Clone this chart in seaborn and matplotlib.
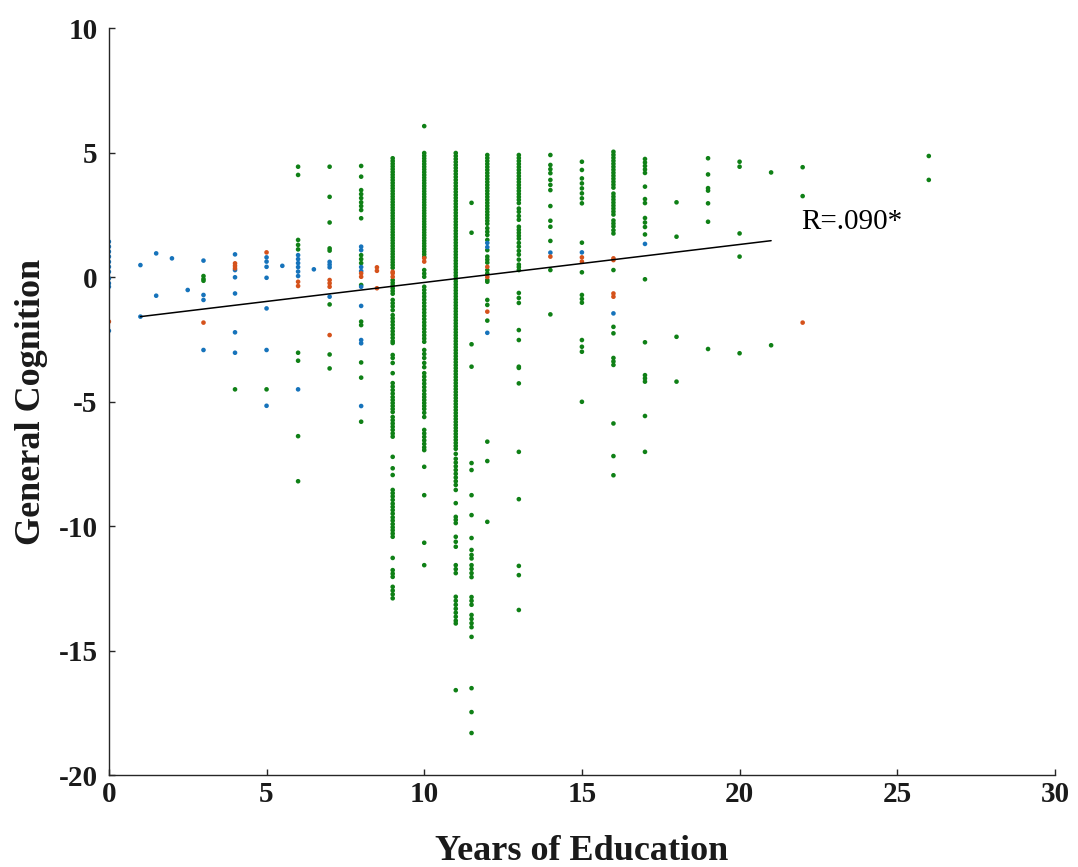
import matplotlib
matplotlib.use("Agg")
import matplotlib.pyplot as plt
import numpy as np
import pandas as pd
import seaborn as sns

# General cognition scores, grouped by years of education, one dict per group
green_pts = {
    3: [0.04, -0.08, -0.15],
    4: [-4.51],
    5: [-4.51],
    6: [4.43, 4.10, 1.49, 1.29, 1.11, -3.04, -3.36, -6.39, -8.20],
    7: [4.43, 3.22, 2.19, 1.15, 1.06, -1.10, -3.11, -3.67],
    8: [4.46, 4.03, 3.49, 3.33, 3.17, 3.00, 2.85, 2.69, 2.36, 0.88, 0.72, 0.56,
        -0.32, -1.79, -1.93, -3.43, -4.04, -5.81],
    9: [4.77, 4.66, 4.55, 4.44, 4.33, 4.22, 4.11, 4.00, 3.89, 3.78, 3.67, 3.56,
        3.45, 3.34, 3.23, 3.12, 3.01, 2.90, 2.79, 2.68, 2.57, 2.46, 2.35, 2.24,
        2.13, 2.02, 1.91, 1.80, 1.69, 1.58, 1.47, 1.36, 1.25, 1.14, 1.03, 0.92,
        0.81, 0.70, 0.59, 0.48, 0.37, -0.12, -0.23, -0.34, -0.45, -0.56, -0.67,
        -0.92, -1.05, -1.18, -1.33, -1.53, -1.66, -1.79, -1.92, -2.05, -2.18,
        -2.31, -2.44, -2.57, -2.65, -3.13, -3.25, -3.45, -3.86, -4.26, -4.40,
        -4.54, -4.68, -4.82, -4.94, -5.06, -5.18, -5.30, -5.42, -5.62, -5.75,
        -5.88, -6.01, -6.14, -6.28, -6.41, -7.22, -7.68, -7.95, -8.55, -8.68,
        -8.81, -8.95, -9.10, -9.23, -9.36, -9.50, -9.65, -9.78, -9.92, -10.05,
        -10.17, -10.30, -10.43, -11.28, -11.77, -11.91, -12.04, -12.44, -12.59,
        -12.74, -12.90],
    10: [6.06, 4.98, 4.87, 4.76, 4.65, 4.54, 4.43, 4.32, 4.21, 4.10, 3.99, 3.88,
         3.77, 3.66, 3.55, 3.44, 3.33, 3.22, 3.11, 3.00, 2.89, 2.78, 2.67, 2.56,
         2.45, 2.34, 2.23, 2.12, 2.01, 1.90, 1.79, 1.68, 1.57, 1.46, 1.35, 1.24,
         1.13, 1.02, 0.91, 0.80, 0.28, 0.14, 0.01, -0.39, -0.52, -0.65, -0.78,
         -0.91, -1.04, -1.17, -1.30, -1.43, -1.56, -1.69, -1.82, -1.95, -2.08,
         -2.21, -2.34, -2.47, -2.60, -2.93, -3.09, -3.25, -3.45, -3.62, -3.86,
         -4.00, -4.14, -4.28, -4.42, -4.56, -4.70, -4.82, -4.94, -5.06, -5.18,
         -5.30, -5.45, -5.62, -6.14, -6.28, -6.42, -6.56, -6.70, -6.84, -6.95,
         -7.62, -8.76, -10.67, -11.57],
    11: [4.98, 4.86, 4.74, 4.62, 4.50, 4.38, 4.26, 4.14, 4.02, 3.90, 3.78, 3.66,
         3.54, 3.42, 3.30, 3.18, 3.06, 2.94, 2.82, 2.70, 2.58, 2.46, 2.34, 2.22,
         2.10, 1.98, 1.86, 1.74, 1.62, 1.50, 1.38, 1.26, 1.14, 1.02, 0.90, 0.78,
         0.66, 0.54, 0.42, 0.30, 0.18, 0.06, -0.06, -0.18, -0.30, -0.42, -0.54,
         -0.66, -0.78, -0.90, -1.02, -1.14, -1.26, -1.38, -1.50, -1.62, -1.74,
         -1.86, -1.98, -2.10, -2.22, -2.34, -2.46, -2.58, -2.70, -2.82, -2.94,
         -3.06, -3.18, -3.30, -3.42, -3.54, -3.66, -3.78, -3.90, -4.02, -4.14,
         -4.26, -4.38, -4.50, -4.62, -4.74, -4.86, -4.98, -5.10, -5.22, -5.34,
         -5.46, -5.58, -5.70, -5.82, -5.94, -6.06, -6.18, -6.30, -6.42, -6.54,
         -6.66, -6.78, -6.90, -7.10, -7.30, -7.45, -7.60, -7.75, -7.90, -8.05,
         -8.20, -8.35, -8.55, -9.08, -9.63, -9.75, -9.88, -10.43, -10.63, -10.83,
         -11.57, -11.73, -11.89, -12.84, -13.00, -13.16, -13.32, -13.48, -13.64,
         -13.80, -13.91, -16.59],
    11.5: [2.98, 1.78, -2.70, -3.60, -7.47, -7.75, -8.76, -9.56, -10.48, -10.96,
           -11.16, -11.30, -11.57, -11.72, -11.89, -12.05, -12.85, -13.00, -13.16,
           -13.57, -13.73, -13.90, -14.06, -14.45, -16.51, -17.47, -18.31],
    12: [4.90, 4.78, 4.66, 4.54, 4.42, 4.30, 4.18, 4.06, 3.94, 3.82, 3.70, 3.58,
         3.46, 3.34, 3.22, 3.10, 2.98, 2.86, 2.74, 2.62, 2.50, 2.38, 2.26, 2.14,
         1.96, 1.82, 1.69, 1.49, 1.08, 0.82, 0.70, 0.58, 0.28, 0.14, -0.12, -0.19,
         -0.92, -1.12, -1.75, -6.61, -7.39, -9.83],
    13: [4.90, 4.78, 4.66, 4.54, 4.42, 4.30, 4.18, 4.06, 3.94, 3.82, 3.70, 3.58,
         3.46, 3.34, 3.22, 3.10, 2.97, 2.75, 2.62, 2.45, 2.30, 2.02, 1.90, 1.78,
         1.66, 1.54, 1.37, 1.22, 1.05, 0.90, 0.70, 0.50, 0.40, 0.28, -0.64, -0.84,
         -1.04, -2.13, -2.53, -3.60, -3.65, -4.27, -7.02, -8.92, -11.60, -11.97,
         -13.37],
    14: [4.90, 4.50, 4.33, 4.17, 3.90, 3.70, 3.49, 2.85, 2.26, 2.02, 1.45, 0.28,
         -1.50],
    15: [4.63, 4.30, 3.96, 3.76, 3.56, 3.36, 3.16, 2.96, 1.38, 0.19, -0.72, -0.88,
         -1.03, -2.53, -2.80, -3.00, -5.01],
    16: [5.03, 4.91, 4.79, 4.67, 4.55, 4.43, 4.31, 4.19, 4.07, 3.95, 3.83, 3.71,
         3.59, 3.35, 3.23, 3.11, 2.99, 2.87, 2.75, 2.63, 2.51, 2.27, 2.15, 2.03,
         1.88, 1.75, 0.28, -2.00, -2.26, -3.25, -3.39, -3.53, -5.88, -7.19, -7.96],
    17: [4.74, 4.60, 4.46, 4.32, 4.18, 3.63, 3.13, 2.97, 2.37, 2.19, 2.01, 1.71,
         -0.09, -2.62, -3.94, -4.07, -4.20, -5.58, -7.02],
    18: [3.00, 1.62, -2.40, -4.20],
    19: [4.77, 4.12, 3.57, 3.47, 2.96, 2.22, -2.89],
    20: [4.63, 4.43, 1.75, 0.82, -3.06],
    21: [4.20, -2.74],
    22: [4.41, 3.25],
    26: [4.86, 3.90],
}

blue_pts = {
    0: [1.42, 1.22, 1.02, 0.82, 0.61, 0.41, 0.21, -0.05, -0.25, -0.39, -2.16],
    1: [0.48, -1.59],
    1.5: [0.95, -0.75],
    2: [0.75],
    2.5: [-0.52],
    3: [0.66, -0.72, -0.92, -2.93],
    4: [0.91, 0.28, -0.01, -0.66, -2.22, -3.04],
    5: [0.79, 0.62, 0.41, -0.03, -1.26, -2.93, -5.17],
    5.5: [0.45],
    6: [0.88, 0.72, 0.56, 0.40, 0.22, 0.04, -4.51],
    6.5: [0.31],
    7: [0.61, 0.50, 0.39, -0.79],
    8: [1.22, 1.08, 0.40, 0.24, -0.39, -1.16, -2.53, -2.66, -5.18],
    12: [1.37, 1.20, -2.24],
    14: [0.98],
    15: [0.99],
    16: [-1.46],
    17: [1.33],
}

orange_pts = {
    0: [-1.79],
    3: [-1.83],
    4: [0.55, 0.45, 0.35],
    5: [0.99],
    6: [-0.19, -0.36],
    7: [-0.12, -0.25, -0.39, -2.33],
    8: [0.15, 0.01],
    8.5: [0.39, 0.25, -0.45],
    9: [0.21, 0.15, 0.01],
    10: [0.76, 0.62],
    12: [0.41, 0.00, -1.39],
    14: [0.82],
    15: [0.79, 0.62],
    16: [0.75, 0.68, -0.66, -0.79],
    22: [-1.83],
}

# Least-squares fit shown over the observed education range
fit_x = [1, 21]
fit_y = [-1.59, 1.46]
r_label = "R=.090*"

x_ticks = [0, 5, 10, 15, 20, 25, 30]
y_ticks = [-20, -15, -10, -5, 0, 5, 10]

group_colors = {"g": "#0f8016", "b": "#1673bb", "o": "#d5521b"}


def to_frame(points, group):
    rows = [(x, y) for x, ys in points.items() for y in ys]
    df = pd.DataFrame(rows, columns=["edu", "cog"])
    df["group"] = group
    return df


# green first so the blue and orange dots stay visible on top
data = pd.concat([to_frame(green_pts, "g"), to_frame(blue_pts, "b"),
                  to_frame(orange_pts, "o")], ignore_index=True)
fit = pd.DataFrame({"edu": fit_x, "cog": fit_y})

sns.set_style("ticks")
serif = ["Liberation Serif", "DejaVu Serif"]
plt.rcParams["font.family"] = serif

fig = plt.figure(figsize=(10.78, 8.67), dpi=100)
ax = fig.add_axes([0.101, 0.106, 0.8776, 0.8617])

sns.scatterplot(data=data, x="edu", y="cog", hue="group", palette=group_colors,
                s=11, linewidth=0, legend=False, ax=ax, zorder=2)
sns.lineplot(data=fit, x="edu", y="cog", color="black", linewidth=1.1,
             ax=ax, zorder=3)

ax.text(21.95, 1.93, r_label, fontsize=21, fontweight="normal",
        va="baseline", ha="left", color="black")

ax.set_xlim(0, 30)
ax.set_ylim(-20, 10)
ax.set_xticks(x_ticks)
ax.set_yticks(y_ticks)
ax.set_xticklabels([str(t) for t in x_ticks])
ax.set_yticklabels([str(t) for t in y_ticks])
ax.tick_params(direction="in", length=4.5, width=1.0, labelsize=21, colors="#262626")
ax.tick_params(axis="x", pad=4)
ax.tick_params(axis="y", pad=8)
for lab in ax.get_xticklabels() + ax.get_yticklabels():
    lab.set_fontweight("bold")
    lab.set_color("#1a1a1a")

ax.set_xlabel("Years of Education", fontsize=26, fontweight="bold", labelpad=20,
              color="#1a1a1a")
ax.set_ylabel("General Cognition", fontsize=26, fontweight="bold", labelpad=8,
              color="#1a1a1a")

sns.despine(ax=ax)
for side in ("left", "bottom"):
    ax.spines[side].set_linewidth(1.0)
    ax.spines[side].set_color("#262626")

fig.savefig("out.png", dpi=100)
